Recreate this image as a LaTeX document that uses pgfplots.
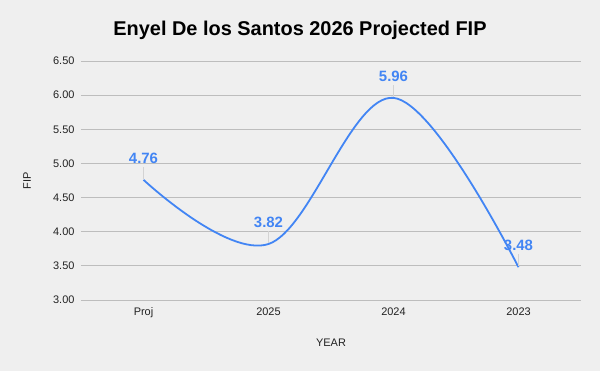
\documentclass[border=0pt]{standalone}
\usepackage{pgfplots}
\pgfplotsset{compat=1.18}
\usepackage{fontspec}
\setmainfont{Liberation Sans}
\definecolor{bgc}{HTML}{EFEFEF}
\definecolor{linec}{HTML}{4285F4}
\definecolor{gridc}{HTML}{BDBDBD}
\definecolor{leadc}{HTML}{D3D3D3}
\definecolor{txtc}{HTML}{222222}
\pgfdeclareplotmark{leader}{\pgfpathmoveto{\pgfpoint{0pt}{1bp}}\pgfpathlineto{\pgfpoint{0pt}{13bp}}\pgfusepathqstroke}
\begin{document}
\begin{tikzpicture}
\fill[bgc] (0,0) rectangle (600bp,371bp);
\begin{axis}[
  at={(81bp,71bp)}, anchor=south west,
  scale only axis, width=500bp, height=239bp,
  xmin=-0.5, xmax=3.5, ymin=3, ymax=6.5,
  xtick={0,1,2,3}, xticklabels={Proj,2025,2024,2023},
  ytick={3,3.5,...,6.5},
  yticklabel style={/pgf/number format/fixed, /pgf/number format/fixed zerofill, /pgf/number format/precision=2, xshift=-3bp},
  /pgf/number format/assume math mode=true,
  ticklabel style={font=\fontsize{11}{13}\selectfont, text=txtc},
  major tick length=0pt,
  axis line style={draw=none},
  ymajorgrids, grid style={gridc, line width=0.8bp},
  xticklabel style={yshift=-4bp},
  xlabel={YEAR}, ylabel={FIP},
  label style={font=\fontsize{11}{13}\selectfont, text=txtc},
  xlabel style={at={(axis description cs:0.5,-0.18)}, anchor=center},
  ylabel style={at={(axis description cs:-0.108,0.5)}, anchor=center},
  clip=false,
]
\addplot[leadc, line width=0.8bp, only marks, mark=leader] coordinates {(0,4.76) (1,3.82) (2,5.96) (3,3.48)};
\addplot[linec, line width=1.8bp, smooth, tension=0.6, no markers] coordinates {(0,4.76) (1,3.82) (2,5.96) (3,3.48)};
\addplot[draw=none, no markers, nodes near coords, point meta=explicit symbolic,
  every node near coord/.style={anchor=south, yshift=13bp, text=linec, font=\bfseries\fontsize{15}{17}\selectfont}]
  coordinates {(0,4.76) [4.76] (1,3.82) [3.82] (2,5.96) [5.96] (3,3.48) [3.48]};
\end{axis}
\node[font=\bfseries\fontsize{20}{22}\selectfont] at (300bp,341bp) {Enyel De los Santos 2026 Projected FIP};
\end{tikzpicture}
\end{document}
